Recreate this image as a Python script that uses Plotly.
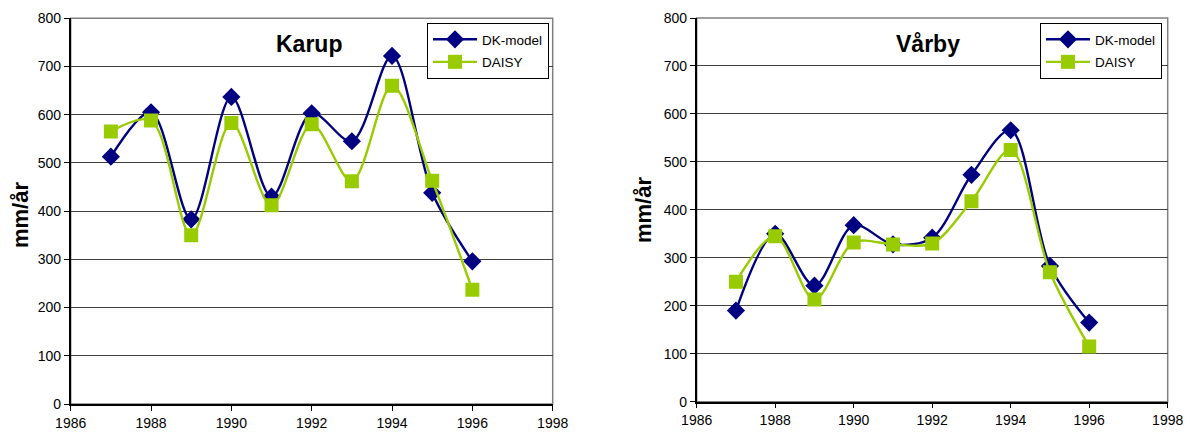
import plotly.graph_objects as go

years = [1987, 1988, 1989, 1990, 1991, 1992, 1993, 1994, 1995, 1996]
karup_dk = [513, 605, 383, 637, 430, 603, 545, 722, 438, 296]
karup_daisy = [565, 588, 350, 583, 412, 580, 462, 660, 463, 237]
varby_dk = [190, 350, 242, 368, 328, 342, 473, 566, 283, 165]
varby_daisy = [250, 345, 213, 332, 328, 330, 418, 525, 270, 115]
x_ticks = [1986, 1988, 1990, 1992, 1994, 1996, 1998]
y_ticks = [0, 100, 200, 300, 400, 500, 600, 700, 800]

NAVY = "#000080"
GREEN = "#99CC00"
FONT = "Liberation Sans, Arial, sans-serif"
W, H = 1190, 437
OFF = 0  # body margin removed below


def px_x(v):
    return (v - OFF) / W


def px_y(v):
    return 1 - (v - OFF) / H


fig = go.Figure()


def add_pair(dk, daisy, xa, ya, legend):
    fig.add_trace(go.Scatter(x=years, y=dk, name="DK-model", mode="lines+markers",
                             line=dict(color=NAVY, width=2.4, shape="spline", smoothing=0.9),
                             marker=dict(symbol="diamond", size=14, color=NAVY),
                             xaxis=xa, yaxis=ya, legend=legend, legendgroup=legend + "a"))
    fig.add_trace(go.Scatter(x=years, y=daisy, name="DAISY", mode="lines+markers",
                             line=dict(color=GREEN, width=2.4, shape="spline", smoothing=0.9),
                             marker=dict(symbol="square", size=14, color=GREEN),
                             xaxis=xa, yaxis=ya, legend=legend, legendgroup=legend + "b"))


add_pair(karup_dk, karup_daisy, "x", "y", "legend")
add_pair(varby_dk, varby_daisy, "x2", "y2", "legend2")


def xax(dom, anchor):
    return dict(domain=dom, anchor=anchor, range=[1986, 1998], tickvals=x_ticks,
                showgrid=False, zeroline=False, showline=True, linecolor="black", linewidth=1.5,
                ticks="outside", ticklen=5, tickcolor="black", automargin=False,
                ticklabeloverflow="allow",
                tickfont=dict(family=FONT, size=14, color="black"))


def yax(dom, anchor):
    return dict(domain=dom, anchor=anchor, range=[0, 800], tickvals=y_ticks,
                showgrid=True, gridcolor="#404040", gridwidth=1, zeroline=False,
                showline=True, linecolor="black", linewidth=1.5, automargin=False,
                ticks="outside", ticklen=5, tickcolor="black",
                tickfont=dict(family=FONT, size=14, color="black"))


def leg(x):
    return dict(x=x, y=px_y(23), xanchor="left", yanchor="top",
                bgcolor="white", bordercolor="black", borderwidth=1, itemwidth=44,
                font=dict(family=FONT, size=13.5, color="black"), tracegroupgap=2)


fig.update_layout(
    width=W, height=H, margin=dict(l=0, r=0, t=0, b=0, autoexpand=False),
    paper_bgcolor="white", plot_bgcolor="white",
    xaxis=xax([px_x(70.7), px_x(552.7)], "y"),
    yaxis=yax([px_y(404), px_y(18.3)], "x"),
    xaxis2=xax([px_x(696.7), px_x(1167.7)], "y2"),
    yaxis2=yax([px_y(401.7), px_y(18)], "x2"),
    legend=leg(px_x(427)),
    legend2=leg(px_x(1040)),
    showlegend=True,
)

# gray frame on top/right of plot areas
for xr, yr in [("x domain", "y domain"), ("x2 domain", "y2 domain")]:
    fig.add_shape(type="rect", xref=xr, yref=yr, x0=0, x1=1, y0=0, y1=1,
                  line=dict(color="#808080", width=1.5), layer="below")


def label(text, x, y, size, angle=0):
    fig.add_annotation(text=text, x=px_x(x), y=px_y(y), xref="paper", yref="paper",
                       xanchor="center", yanchor="middle", showarrow=False,
                       textangle=angle, font=dict(family=FONT, size=size, color="black"))


label("<b>Karup</b>", 309, 44, 23)
label("<b>Vårby</b>", 928, 44, 23)
label("<b>mm/år</b>", 20, 215, 22, -90)
label("<b>mm/år</b>", 643, 210, 22, -90)

fig.write_html("out.html", config={"displayModeBar": False},
               post_script="document.body.style.margin='0';document.body.style.overflow='hidden';")
